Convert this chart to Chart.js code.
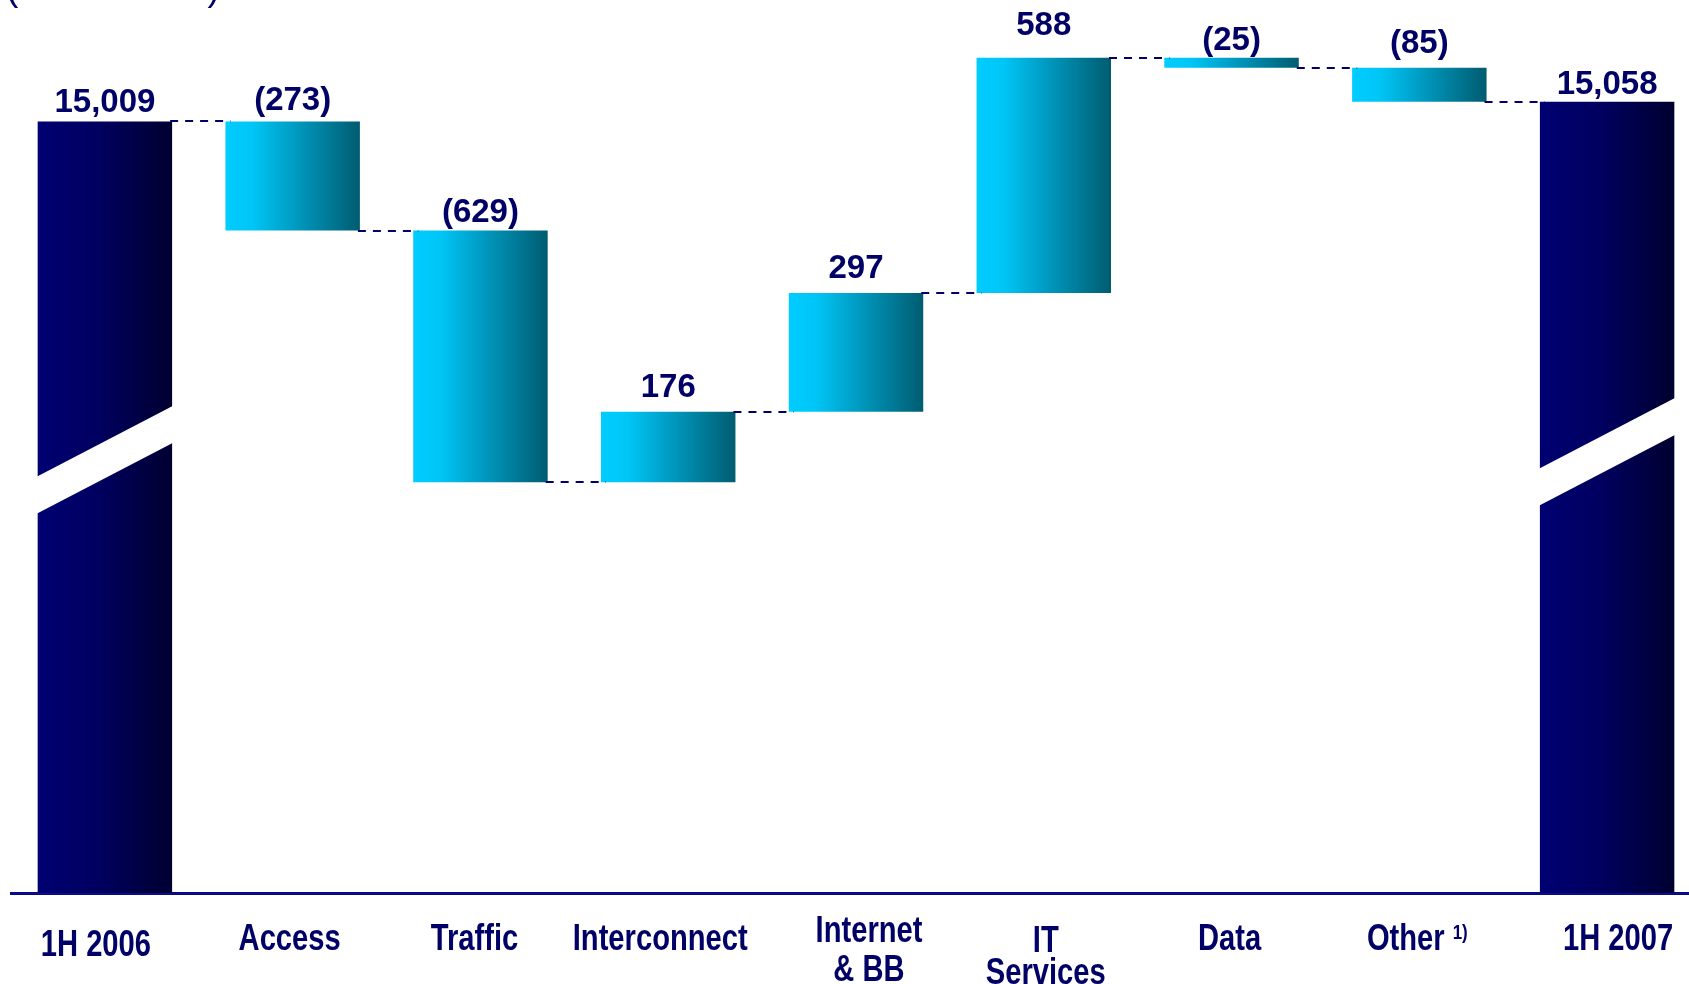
<!DOCTYPE html>
<html>
<head>
<meta charset="utf-8">
<title>Revenue bridge 1H 2006 - 1H 2007</title>
<script src="https://cdn.jsdelivr.net/npm/chart.js@4.4.1/dist/chart.umd.min.js"></script>
<style>
  html, body { margin: 0; padding: 0; background: #fff; overflow: hidden; width: 1689px; height: 984px; }
  canvas { display: block; }
</style>
</head>
<body>
<canvas id="bridge" width="1701" height="984"></canvas>
<script>
// bridge data
const categories = ['1H 2006', 'Access', 'Traffic', 'Interconnect', ['Internet', '& BB'], ['IT', 'Services'], 'Data', 'Other', '1H 2007'];
const openingTotal = 15009;
const movements = [-273, -629, 176, 297, 588, -25, -85];
const closingTotal = 15058;
const footnoteAt = 7;

const NAVY = '#000066';
const BAR_PCT = 0.716;
const totalStops = [[0, '#000072'], [0.45, '#000060'], [1, '#000030']];
const moveStops = [[0, '#00CCFF'], [0.2, '#00C6F6'], [0.55, '#0096BC'], [1, '#005C70']];

// category label placement below the axis: [dx, [line offsets from axis]]
const labelPlacement = [
  [-9, [49.5]], [-3, [44]], [-6, [44]], [-8, [44]], [13, [35.5, 75]],
  [2, [46, 77.5]], [-2, [44]], [-2, [44]], [11, [44]]
];
// gap between bar top and its value label
const valueGap = [9, 11, 9, 15, 15, 23, 8, 15, 8];
const LABEL_FONT = 'bold 36px "Liberation Sans", Arial, sans-serif';
const LABEL_SQUEEZE = 0.81;

// floating bars: totals from the axis base, movements from running total
const running = [openingTotal];
movements.forEach(m => running.push(running[running.length - 1] + m));
const barData = [openingTotal];
movements.forEach((m, i) => barData.push([running[i], running[i + 1]]));
barData.push(closingTotal);

const isTotal = i => i === 0 || i === categories.length - 1;

function formatValue(i) {
  if (isTotal(i)) return barData[i].toLocaleString('en-US');
  const m = movements[i - 1];
  return m < 0 ? '(' + Math.abs(m) + ')' : String(m);
}

function barFill(ctx) {
  const chart = ctx.chart, xs = chart.scales.x;
  const stops = isTotal(ctx.dataIndex) ? totalStops : moveStops;
  if (!xs || !xs.width) return stops[0][1];
  const cx = xs.getPixelForValue(ctx.dataIndex);
  const half = xs.width / categories.length * BAR_PCT / 2;
  const g = chart.ctx.createLinearGradient(cx - half, 0, cx + half, 0);
  stops.forEach(([o, c]) => g.addColorStop(o, c));
  return g;
}

// squeezed bold text, like a narrow face
function narrowText(ctx, text, x, y, squeeze) {
  ctx.save();
  ctx.translate(x, y);
  ctx.scale(squeeze, 1);
  ctx.fillText(text, 0, 0);
  ctx.restore();
}

const bridgeDecor = {
  id: 'bridgeDecor',
  afterDatasetsDraw(chart) {
    const ctx = chart.ctx, ys = chart.scales.y, area = chart.chartArea;
    const bars = chart.getDatasetMeta(0).data;
    ctx.save();

    // axis break on the two total bars
    [[0, 0.552], [bars.length - 1, 0.543]].forEach(([i, f]) => {
      const b = bars[i];
      const l = b.x - b.width / 2 - 1, r = b.x + b.width / 2 + 1;
      const yl = area.top + f * (area.bottom - area.top);
      const rise = 71, band = 37;
      ctx.fillStyle = '#fff';
      ctx.beginPath();
      ctx.moveTo(l, yl - band / 2);
      ctx.lineTo(r, yl - band / 2 - rise);
      ctx.lineTo(r, yl + band / 2 - rise);
      ctx.lineTo(l, yl + band / 2);
      ctx.closePath();
      ctx.fill();
    });

    // dashed connectors between neighbouring bars
    ctx.strokeStyle = NAVY;
    ctx.lineWidth = 2;
    ctx.setLineDash([8, 7]);
    for (let i = 0; i < bars.length - 1; i++) {
      const y = Math.round(ys.getPixelForValue(running[i]));
      ctx.beginPath();
      ctx.moveTo(bars[i].x + bars[i].width / 2 - 2, y);
      ctx.lineTo(bars[i + 1].x - bars[i + 1].width / 2 + 5, y);
      ctx.stroke();
    }
    ctx.setLineDash([]);

    // value labels
    ctx.fillStyle = NAVY;
    ctx.font = 'bold 33px "Liberation Sans", Arial, sans-serif';
    ctx.textAlign = 'center';
    ctx.textBaseline = 'alphabetic';
    bars.forEach((b, i) => {
      const top = Math.min(b.y, b.base);
      ctx.fillText(formatValue(i), b.x, top - valueGap[i]);
    });
    ctx.restore();
  },
  afterDraw(chart) {
    const ctx = chart.ctx, xs = chart.scales.x;
    const axisY = chart.chartArea.bottom;
    ctx.save();
    ctx.fillStyle = NAVY;
    ctx.textBaseline = 'alphabetic';

    // category labels
    categories.forEach((cat, i) => {
      const lines = Array.isArray(cat) ? cat : [cat];
      const [dx, rows] = labelPlacement[i];
      const cx = xs.getPixelForValue(i) + dx;
      ctx.font = LABEL_FONT;
      if (i === footnoteAt) {
        // word plus superscript marker, centred together
        const wordW = ctx.measureText(lines[0]).width * LABEL_SQUEEZE;
        ctx.font = 'bold 21px "Liberation Sans", Arial, sans-serif';
        const noteW = ctx.measureText('1)').width * LABEL_SQUEEZE;
        const left = cx - (wordW + 8 + noteW) / 2;
        ctx.textAlign = 'left';
        narrowText(ctx, '1)', left + wordW + 8, axisY + rows[0] + 2, LABEL_SQUEEZE);
        ctx.font = LABEL_FONT;
        narrowText(ctx, lines[0], left, axisY + rows[0] + 13, LABEL_SQUEEZE);
        return;
      }
      ctx.textAlign = 'center';
      lines.forEach((line, k) => narrowText(ctx, line, cx, axisY + rows[k] + 13, LABEL_SQUEEZE));
    });

    // unit caption at the top edge
    ctx.font = '37px "Liberation Sans", Arial, sans-serif';
    ctx.textAlign = 'left';
    ctx.fillText('(CZK million)', 6, -0.5);
    ctx.restore();
  }
};

new Chart(document.getElementById('bridge'), {
  type: 'bar',
  data: {
    labels: categories,
    datasets: [{
      data: barData,
      backgroundColor: barFill,
      borderWidth: 0,
      categoryPercentage: 1,
      barPercentage: BAR_PCT,
      clip: 0
    }]
  },
  options: {
    responsive: false,
    animation: false,
    layout: { padding: { left: 11, right: 0, top: 5, bottom: 91 } },
    plugins: { legend: { display: false }, tooltip: { enabled: false } },
    scales: {
      x: {
        grid: { display: false, drawTicks: false },
        border: { display: true, color: '#0b0b88', width: 3 },
        ticks: { display: false }
      },
      y: { display: false, min: 13080, max: 15300 }
    }
  },
  plugins: [bridgeDecor]
});
</script>
</body>
</html>
